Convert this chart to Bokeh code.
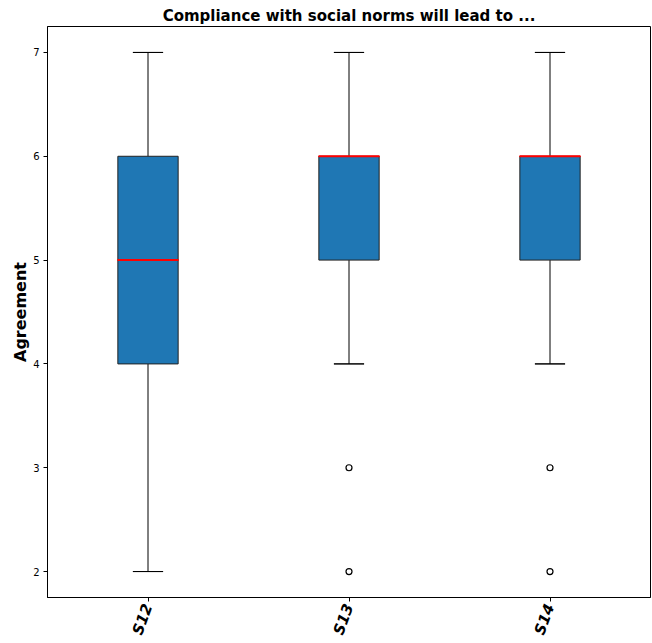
from bokeh.plotting import figure
from bokeh.models import Range1d, FixedTicker, ColumnDataSource
from bokeh.embed import file_html
from bokeh.resources import INLINE

categories = ["S12", "S13", "S14"]
positions = [1, 2, 3]
lower_whisker = [2, 4, 4]
q1 = [4, 5, 5]
median = [5, 6, 6]
q3 = [6, 6, 6]
upper_whisker = [7, 7, 7]
outlier_cat = [2, 2, 3, 3]
outlier_val = [3, 2, 3, 2]
y_ticks = [2, 3, 4, 5, 6, 7]

box_w = 0.3
cap_w = 0.15

p = figure(width=652, height=643, output_backend="svg", toolbar_location=None,
           x_range=Range1d(0.5, 3.5), y_range=Range1d(1.75, 7.25),
           min_border_left=47, min_border_right=2, min_border_bottom=40, min_border_top=26)
p.title.text = "Compliance with social norms will lead to ..."
p.title.align = "center"
p.title.text_font = "DejaVu Sans"
p.title.text_font_size = "15px"
p.title.text_font_style = "bold"
p.title.text_color = "black"
p.title.standoff = 4
p.title.offset = 0

src = ColumnDataSource(dict(x=positions, lo=lower_whisker, q1=q1, med=median, q3=q3, hi=upper_whisker))
p.segment(x0="x", y0="lo", x1="x", y1="q1", source=src, line_color="black", line_width=1)
p.segment(x0="x", y0="q3", x1="x", y1="hi", source=src, line_color="black", line_width=1)
p.rect(x="x", y="lo", width=cap_w, height=0.0001, source=src, line_color="black", fill_color=None)
p.rect(x="x", y="hi", width=cap_w, height=0.0001, source=src, line_color="black", fill_color=None)
p.vbar(x="x", bottom="q1", top="q3", width=box_w, source=src, fill_color="#1f77b4", line_color="#222222", line_width=1)
p.rect(x="x", y="med", width=box_w, height=0.0001, source=src, line_color="red", line_width=2, fill_color=None)
p.scatter(x=outlier_cat, y=outlier_val, marker="circle", size=6, fill_color=None, line_color="black", line_width=1.2)

p.xgrid.visible = False
p.ygrid.visible = False
p.outline_line_color = "black"
p.outline_line_alpha = 1
p.outline_line_width = 1

p.xaxis.ticker = FixedTicker(ticks=positions)
p.xaxis.major_label_overrides = {pos: c for pos, c in zip(positions, categories)}
p.xaxis.major_label_orientation = 1.22
p.xaxis.major_label_text_font = "DejaVu Sans"
p.xaxis.major_label_text_font_size = "15px"
p.xaxis.major_label_text_font_style = "bold italic"
p.xaxis.major_label_text_color = "black"
p.xaxis.minor_tick_line_color = None
p.xaxis.major_tick_in = 0
p.xaxis.major_tick_out = 4
p.xaxis.major_label_standoff = 3

p.yaxis.ticker = FixedTicker(ticks=y_ticks)
p.yaxis.axis_label = "Agreement"
p.yaxis.axis_label_text_font = "DejaVu Sans"
p.yaxis.axis_label_text_font_size = "16px"
p.yaxis.axis_label_text_font_style = "bold"
p.yaxis.axis_label_text_color = "black"
p.yaxis.axis_label_standoff = 0
p.yaxis.major_label_text_font = "DejaVu Sans"
p.yaxis.major_label_text_font_size = "10px"
p.yaxis.major_label_text_color = "black"
p.yaxis.minor_tick_line_color = None
p.yaxis.major_tick_in = 0
p.yaxis.major_tick_out = 4
p.yaxis.major_label_standoff = 4

for ax in (p.xaxis, p.yaxis):
    ax.axis_line_color = "black"
    ax.major_tick_line_color = "black"

open("out.html", "w").write(file_html(p, INLINE))
